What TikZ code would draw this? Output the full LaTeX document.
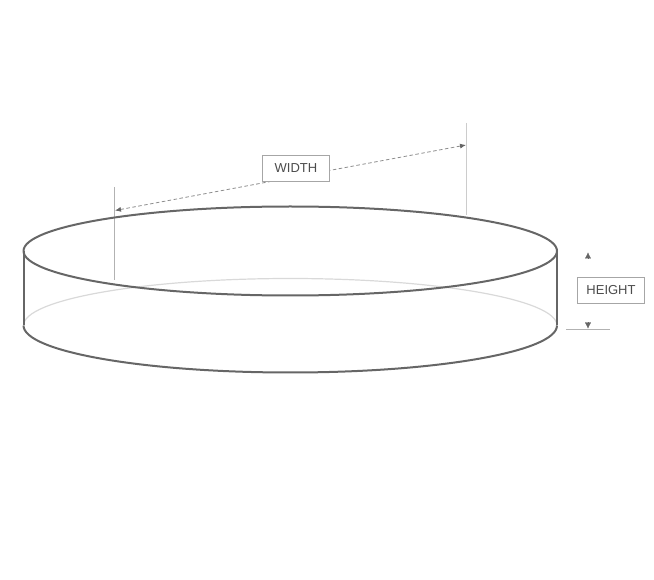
\documentclass[tikz,border=0pt]{standalone}
\usepackage{fontspec}
\setmainfont{Liberation Sans}
\usetikzlibrary{arrows.meta}

\begin{document}
\begin{tikzpicture}[x=1pt,y=-1pt]
\tikzstyle{rim}=[draw=black!60,line width=2pt]
\tikzstyle{hidden rim}=[draw=black!15,line width=1.2pt]
\tikzstyle{extension}=[draw=black!30,line width=1pt]
\tikzstyle{dimline}=[draw=black!45,line width=.8pt,dash pattern=on 3.5pt off 2.5pt,{Latex[length=6pt,width=5pt,black!60]}-{Latex[length=6pt,width=5pt,black!60]}]
\tikzstyle{tip}=[-{Latex[length=6pt,width=6pt,black!60]},draw=black!60,line width=.1pt]
\tikzstyle{dimbox}=[draw=black!35,fill=white,line width=.8pt,text=black!70,font=\fontsize{13}{15}\selectfont,minimum width=67.5pt,minimum height=26.5pt,inner sep=0pt]
\useasboundingbox (0,0) rectangle (654,580);
% end points
\coordinate (top left) at (23.5,251);
\coordinate (top right) at (557,251);
\coordinate (bottom left) at (23.5,325.5);
\coordinate (bottom right) at (557,325.5);
\coordinate (width start) at (115,210.5);
\coordinate (width end) at (466,145);
\coordinate (left ext a) at (114.5,187);
\coordinate (left ext b) at (114.5,280);
\coordinate (right ext a) at (466,123);
\coordinate (right ext b) at (466,215);
\coordinate (base ext a) at (566,329.5);
\coordinate (base ext b) at (610,329.5);
% extension lines
\draw[extension] (left ext a) -- (left ext b);
\draw[extension,black!20] (right ext a) -- (right ext b);
\draw[extension] (base ext a) -- (base ext b);
% the disc
\draw[hidden rim] (bottom left) arc[start angle=180,end angle=360,x radius=266.75,y radius=47];
\draw[rim] (bottom left) arc[start angle=180,end angle=0,x radius=266.75,y radius=47];
\draw[rim] (top left) arc[start angle=180,end angle=-180,x radius=266.75,y radius=44.5];
\draw[rim] (top left) -- (bottom left);
\draw[rim] (top right) -- (bottom right);
% dimensions
\draw[dimline] (width start) -- (width end);
\node[dimbox] (width) at (296,168.5) {\raisebox{-.5pt}{WIDTH}};
\node[dimbox] (height) at (611,290.5) {\raisebox{-.5pt}{HEIGHT}};
\draw[tip] (588,258.5) -- (588,252.5);
\draw[tip] (588,322.5) -- (588,328.5);
\end{tikzpicture}
\end{document}
